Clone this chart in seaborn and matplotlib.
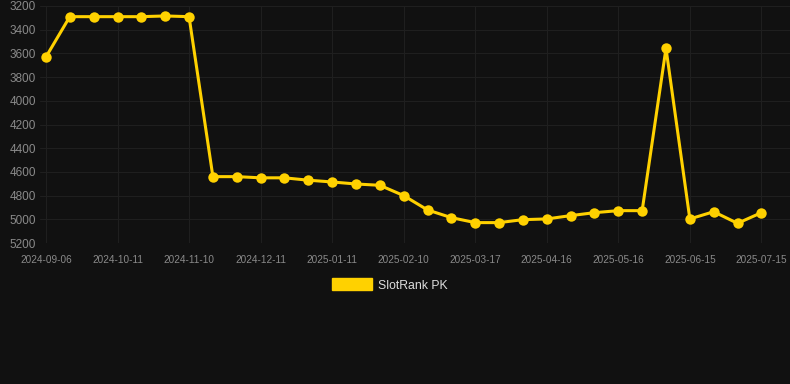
import matplotlib
matplotlib.use("Agg")
import matplotlib.pyplot as plt
import matplotlib.patches as mpatches
import pandas as pd
import seaborn as sns

# Data
dates = ["2024-09-06", "2024-09-18", "2024-09-30", "2024-10-11", "2024-10-21", "2024-10-31",
         "2024-11-10", "2024-11-20", "2024-11-30", "2024-12-11", "2024-12-21", "2024-12-31",
         "2025-01-11", "2025-01-21", "2025-01-31", "2025-02-10", "2025-02-22", "2025-03-05",
         "2025-03-17", "2025-03-27", "2025-04-06", "2025-04-16", "2025-04-26", "2025-05-06",
         "2025-05-16", "2025-05-26", "2025-06-05", "2025-06-15", "2025-06-25", "2025-07-05",
         "2025-07-15"]
ranks = [3630, 3290, 3290, 3290, 3290, 3284, 3290, 4640, 4640, 4650, 4650, 4670,
         4685, 4702, 4713, 4800, 4921, 4986, 5028, 5028, 5003, 4997, 4969, 4944,
         4927, 4927, 3557, 4997, 4936, 5034, 4944]
series_name = "SlotRank PK"

df = pd.DataFrame({"date": dates, "rank": ranks})
df["pos"] = range(len(df))

bg = "#111111"
yellow = "#ffd100"

sns.set_style("dark")
plt.rcParams["font.family"] = ["Liberation Sans", "DejaVu Sans"]

fig = plt.figure(figsize=(7.9, 3.84), dpi=100, facecolor=bg)
ax = fig.add_axes([40 / 790, (384 - 243) / 384, 750 / 790, 237 / 384])
ax.set_facecolor(bg)

sns.lineplot(data=df, x="pos", y="rank", ax=ax, color=yellow, linewidth=2.2,
             marker="o", markersize=7.5, markeredgewidth=0, legend=False)

ax.set_ylim(5200, 3200)
ax.set_yticks(range(3200, 5201, 200))
ax.set_xlim(-0.25, 31.2)
ax.set_xticks(df["pos"][::3])
ax.set_xticklabels(df["date"][::3])

ax.grid(True, color="#1f1f1f", linewidth=0.8)
ax.set_axisbelow(True)
for s in ax.spines.values():
    s.set_visible(False)
ax.tick_params(axis="y", colors="#8a8a8a", labelsize=8.5, length=0, pad=3)
ax.tick_params(axis="x", colors="#8a8a8a", labelsize=7.2, length=0, pad=8.5)
ax.set_xlabel("")
ax.set_ylabel("")

handle = mpatches.Patch(color=yellow, label=series_name)
fig.legend(handles=[handle], loc="center", bbox_to_anchor=(390 / 790, 1 - 285 / 384),
           frameon=False, fontsize=8.8, labelcolor="#dddddd",
           handlelength=3.3, handleheight=1.1, handletextpad=0.5)

fig.savefig("out.png", dpi=100, facecolor=bg)
